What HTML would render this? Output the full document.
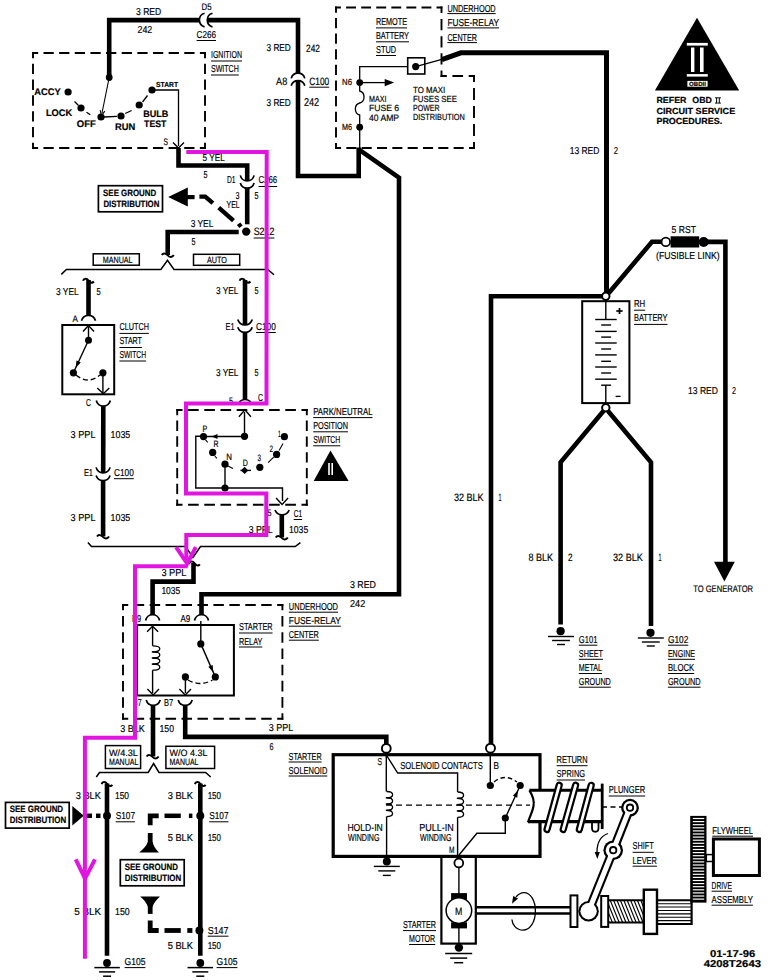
<!DOCTYPE html>
<html><head><meta charset="utf-8"><title>Starting System Schematic</title>
<style>
html,body{margin:0;padding:0;background:#fff;}
svg{display:block;}
text{font-family:"Liberation Sans",sans-serif;fill:#000;stroke:#000;stroke-width:0.18px;text-rendering:geometricPrecision;}
</style></head><body>
<svg width="775" height="980" viewBox="0 0 775 980">
<rect width="775" height="980" fill="#fff"/>
<polyline points="109.2,77 109.2,20.1 199.4,20.1" fill="none" stroke="#000" stroke-width="4.6" stroke-linejoin="miter" stroke-linecap="butt"/>
<polyline points="207.3,20.1 298,20.1 298,73.2" fill="none" stroke="#000" stroke-width="4.6" stroke-linejoin="miter" stroke-linecap="butt"/>
<path d="M204.6,13.3 A7.05,7.05 0 0 0 204.6,26.9" fill="none" stroke="#000" stroke-width="1.7" />
<path d="M212.5,13.3 A7.05,7.05 0 0 0 212.5,26.9" fill="none" stroke="#000" stroke-width="1.7" />
<text x="201.5" y="10.36" font-size="9.45" textLength="10" lengthAdjust="spacingAndGlyphs">D5</text>
<text x="196.6" y="37.68" font-size="10.08" textLength="19.4" lengthAdjust="spacingAndGlyphs">C266</text>
<line x1="196.6" y1="40.5" x2="216" y2="40.5" stroke="#000" stroke-width="1.0" />
<text x="136" y="15.08" font-size="10.08" textLength="25.3" lengthAdjust="spacingAndGlyphs">3 RED</text>
<text x="137.5" y="33.18" font-size="10.08" textLength="14.8" lengthAdjust="spacingAndGlyphs">242</text>
<line x1="32.05" y1="53" x2="205.95" y2="53" stroke="#000" stroke-width="1.9" stroke-dasharray="10.26 5.38" stroke-dashoffset="4.18"/>
<line x1="205" y1="52.05" x2="205" y2="148.95" stroke="#000" stroke-width="1.9" stroke-dasharray="10.39 5.44" stroke-dashoffset="4.25"/>
<line x1="205.95" y1="148" x2="32.05" y2="148" stroke="#000" stroke-width="1.9" stroke-dasharray="10.26 5.38" stroke-dashoffset="4.18"/>
<line x1="33" y1="148.95" x2="33" y2="52.05" stroke="#000" stroke-width="1.9" stroke-dasharray="10.39 5.44" stroke-dashoffset="4.25"/>
<text x="211" y="58.48" font-size="10.08" textLength="31" lengthAdjust="spacingAndGlyphs">IGNITION</text>
<line x1="211" y1="61" x2="242" y2="61" stroke="#000" stroke-width="1.0" />
<text x="211" y="72.48" font-size="10.08" textLength="27.8" lengthAdjust="spacingAndGlyphs">SWITCH</text>
<line x1="211" y1="75" x2="238.8" y2="75" stroke="#000" stroke-width="1.0" />
<circle cx="109.2" cy="77.5" r="3.4" fill="#000"/>
<line x1="109.2" y1="77.5" x2="102" y2="113" stroke="#000" stroke-width="1.1" />
<polyline points="100.13,110.13 101.5,115.5 104.83,111.07" fill="none" stroke="#000" stroke-width="1.1" />
<circle cx="68.1" cy="92" r="3.6" fill="#000"/>
<circle cx="81" cy="108" r="3.6" fill="#000"/>
<circle cx="101" cy="117" r="3.6" fill="#000"/>
<circle cx="121" cy="116" r="3.6" fill="#000"/>
<circle cx="139.2" cy="105" r="3.6" fill="#000"/>
<circle cx="152" cy="90" r="3.6" fill="#000"/>
<line x1="74.5" y1="101.5" x2="78.5" y2="105.5" stroke="#000" stroke-width="1.3" />
<line x1="86.5" y1="112.3" x2="90.3" y2="114.8" stroke="#000" stroke-width="1.3" />
<line x1="104" y1="117" x2="117" y2="116.3" stroke="#000" stroke-width="1.3" />
<line x1="125.2" y1="113.5" x2="131.6" y2="110.5" stroke="#000" stroke-width="1.3" />
<line x1="142.5" y1="102" x2="147.5" y2="95.5" stroke="#000" stroke-width="1.3" />
<polyline points="152,90 178.5,90 178.5,146" fill="none" stroke="#000" stroke-width="1.3" />
<polyline points="173,142.5 178.5,148 184,142.5" fill="none" stroke="#000" stroke-width="1.4" />
<text x="34.3" y="95.21" font-size="9.6" font-weight="bold" textLength="26.3" lengthAdjust="spacingAndGlyphs">ACCY</text>
<text x="45.9" y="116.11" font-size="9.6" font-weight="bold" textLength="26.3" lengthAdjust="spacingAndGlyphs">LOCK</text>
<text x="76.8" y="127.11" font-size="9.6" font-weight="bold" textLength="19" lengthAdjust="spacingAndGlyphs">OFF</text>
<text x="115.1" y="129.71" font-size="9.6" font-weight="bold" textLength="20.3" lengthAdjust="spacingAndGlyphs">RUN</text>
<text x="143.2" y="117.44" font-size="9.4" font-weight="bold" textLength="25.1" lengthAdjust="spacingAndGlyphs">BULB</text>
<text x="144.1" y="127.24" font-size="9.4" font-weight="bold" textLength="22.3" lengthAdjust="spacingAndGlyphs">TEST</text>
<text x="156.1" y="86.72" font-size="7.3" font-weight="bold" textLength="21.9" lengthAdjust="spacingAndGlyphs">START</text>
<text x="163.5" y="145.26" font-size="9.45" textLength="4.5" lengthAdjust="spacingAndGlyphs">S</text>
<path d="M291.2,78.4 A7.05,7.05 0 0 1 304.8,78.4" fill="none" stroke="#000" stroke-width="1.7" />
<path d="M291.2,85.8 A7.05,7.05 0 0 1 304.8,85.8" fill="none" stroke="#000" stroke-width="1.7" />
<text x="266.5" y="51.18" font-size="10.08" textLength="24.3" lengthAdjust="spacingAndGlyphs">3 RED</text>
<text x="306.1" y="51.69" font-size="10.71" textLength="13.8" lengthAdjust="spacingAndGlyphs">242</text>
<text x="276.1" y="84.79" font-size="10.71" textLength="11.1" lengthAdjust="spacingAndGlyphs">A8</text>
<text x="309.3" y="84.79" font-size="10.71" textLength="19.9" lengthAdjust="spacingAndGlyphs">C100</text>
<line x1="309.3" y1="87.2" x2="329.2" y2="87.2" stroke="#000" stroke-width="1.0" />
<text x="266.5" y="105.78" font-size="10.08" textLength="24.3" lengthAdjust="spacingAndGlyphs">3 RED</text>
<text x="303.9" y="106.21" font-size="11.34" textLength="15.3" lengthAdjust="spacingAndGlyphs">242</text>
<polyline points="298,80.6 298,176 358.7,176 358.7,147.5" fill="none" stroke="#000" stroke-width="4.6" stroke-linejoin="miter" stroke-linecap="butt"/>
<polyline points="358.7,149.4 399,177.7 399,594.2 201.5,594.2 201.5,614.7" fill="none" stroke="#000" stroke-width="4.6" stroke-linejoin="miter" stroke-linecap="butt"/>
<line x1="335.05" y1="7.5" x2="442.45" y2="7.5" stroke="#000" stroke-width="1.9" stroke-dasharray="9.89 5.18" stroke-dashoffset="4"/>
<line x1="441.5" y1="6.55" x2="441.5" y2="76.95" stroke="#000" stroke-width="1.9" stroke-dasharray="11.24 5.89" stroke-dashoffset="4.67"/>
<line x1="440.55" y1="76" x2="474.95" y2="76" stroke="#000" stroke-width="1.9" stroke-dasharray="10.66 5.59" stroke-dashoffset="4.38"/>
<line x1="474" y1="75.05" x2="474" y2="148.95" stroke="#000" stroke-width="1.9" stroke-dasharray="11.81 6.19" stroke-dashoffset="4.96"/>
<line x1="474.95" y1="148" x2="335.05" y2="148" stroke="#000" stroke-width="1.9" stroke-dasharray="10.06 5.27" stroke-dashoffset="4.08"/>
<line x1="336" y1="148.95" x2="336" y2="6.55" stroke="#000" stroke-width="1.9" stroke-dasharray="10.24 5.37" stroke-dashoffset="4.17"/>
<text x="376" y="25.48" font-size="10.08" textLength="31" lengthAdjust="spacingAndGlyphs">REMOTE</text>
<line x1="376" y1="27.9" x2="407" y2="27.9" stroke="#000" stroke-width="1.0" />
<text x="376" y="39.48" font-size="10.08" textLength="33" lengthAdjust="spacingAndGlyphs">BATTERY</text>
<line x1="376" y1="41.8" x2="409" y2="41.8" stroke="#000" stroke-width="1.0" />
<text x="376" y="53.48" font-size="10.08" textLength="20" lengthAdjust="spacingAndGlyphs">STUD</text>
<line x1="376" y1="55.5" x2="396" y2="55.5" stroke="#000" stroke-width="1.0" />
<text x="447.4" y="12.28" font-size="10.08" textLength="48.3" lengthAdjust="spacingAndGlyphs">UNDERHOOD</text>
<line x1="447.4" y1="13.6" x2="495.7" y2="13.6" stroke="#000" stroke-width="1.0" />
<text x="447.4" y="26.48" font-size="10.08" textLength="51.6" lengthAdjust="spacingAndGlyphs">FUSE-RELAY</text>
<line x1="447.4" y1="27.9" x2="499" y2="27.9" stroke="#000" stroke-width="1.0" />
<text x="447.4" y="40.68" font-size="10.08" textLength="29.6" lengthAdjust="spacingAndGlyphs">CENTER</text>
<line x1="447.4" y1="42.6" x2="477" y2="42.6" stroke="#000" stroke-width="1.0" />
<rect x="407.7" y="57.8" width="17.1" height="16.2" fill="none" stroke="#000" stroke-width="1.6" />
<circle cx="415.7" cy="66.6" r="3.6" fill="#000"/>
<polyline points="359.7,82.6 359.7,66.6 407.7,66.6" fill="none" stroke="#000" stroke-width="1.3" />
<line x1="415.7" y1="66.6" x2="441.8" y2="59.3" stroke="#000" stroke-width="1.3" />
<polyline points="441.8,59.6 460.9,52.8 606.5,52.8 606.5,292.3" fill="none" stroke="#000" stroke-width="5" stroke-linejoin="miter" stroke-linecap="butt"/>
<circle cx="359.7" cy="82.6" r="3.4" fill="#000"/>
<circle cx="359.7" cy="127.2" r="3.4" fill="#000"/>
<line x1="359.7" y1="82.6" x2="386" y2="82.6" stroke="#000" stroke-width="1.3" />
<polygon points="384.7,86.3 394.2,82.6 384.7,78.9" fill="#000"/>
<path d="M359.7,86 L359.7,91 C365.5,92.5 365.5,101.5 359.7,103 C353.9,104.5 353.9,113.5 359.7,115 L359.7,127.2" fill="none" stroke="#000" stroke-width="1.3" />
<line x1="359.7" y1="127.2" x2="359.7" y2="148" stroke="#000" stroke-width="1.3" />
<text x="342" y="85.34" font-size="8.82" textLength="10" lengthAdjust="spacingAndGlyphs">N6</text>
<text x="342" y="129.94" font-size="8.82" textLength="10" lengthAdjust="spacingAndGlyphs">M6</text>
<text x="369" y="102.04" font-size="8.82" textLength="17.4" lengthAdjust="spacingAndGlyphs">MAXI</text>
<text x="369" y="111.04" font-size="8.82" textLength="30.1" lengthAdjust="spacingAndGlyphs">FUSE 6</text>
<text x="369" y="121.37" font-size="9.2" textLength="30.1" lengthAdjust="spacingAndGlyphs">40 AMP</text>
<text x="413" y="93.04" font-size="8.82" textLength="32.1" lengthAdjust="spacingAndGlyphs">TO MAXI</text>
<text x="413" y="101.84" font-size="8.82" textLength="44" lengthAdjust="spacingAndGlyphs">FUSES SEE</text>
<text x="413" y="111.04" font-size="8.82" textLength="26.5" lengthAdjust="spacingAndGlyphs">POWER</text>
<text x="413" y="120.44" font-size="8.82" textLength="51.8" lengthAdjust="spacingAndGlyphs">DISTRIBUTION</text>
<polygon points="697,17.7 654.9,90.4 739.2,90.4" fill="#000"/>
<rect x="686.8" y="42.9" width="21" height="2.7" fill="#fff"/>
<rect x="686.8" y="74.1" width="21" height="2.5" fill="#fff"/>
<rect x="691" y="47.5" width="3.4" height="24.5" fill="#fff"/>
<rect x="700" y="47.5" width="3.6" height="24.5" fill="#fff"/>
<rect x="687.4" y="80.9" width="20.2" height="5.8" fill="#fff"/>
<text x="689" y="86" font-size="6" font-weight="bold" textLength="17" lengthAdjust="spacingAndGlyphs">OBDII</text>
<text x="656.4" y="103.44" font-size="8.8" font-weight="bold" textLength="30.1" lengthAdjust="spacingAndGlyphs">REFER</text>
<text x="692.3" y="103.44" font-size="8.8" font-weight="bold" textLength="19.6" lengthAdjust="spacingAndGlyphs">OBD</text>
<line x1="715" y1="97.8" x2="721" y2="97.8" stroke="#000" stroke-width="0.9" />
<line x1="715" y1="103.1" x2="721" y2="103.1" stroke="#000" stroke-width="0.9" />
<line x1="716.6" y1="97.8" x2="716.6" y2="103.1" stroke="#000" stroke-width="1" />
<line x1="719.3" y1="97.8" x2="719.3" y2="103.1" stroke="#000" stroke-width="1" />
<text x="656.4" y="113.84" font-size="8.8" font-weight="bold" textLength="78.8" lengthAdjust="spacingAndGlyphs">CIRCUIT SERVICE</text>
<text x="656.4" y="124.44" font-size="8.8" font-weight="bold" textLength="65.9" lengthAdjust="spacingAndGlyphs">PROCEDURES.</text>
<text x="569.7" y="154.08" font-size="10.08" textLength="29.7" lengthAdjust="spacingAndGlyphs">13 RED</text>
<text x="613.8" y="154.08" font-size="10.08" textLength="4.3" lengthAdjust="spacingAndGlyphs">2</text>
<polyline points="178.5,148 178.5,165.5 247.2,165.5 247.2,181" fill="none" stroke="#000" stroke-width="4.6" stroke-linejoin="miter" stroke-linecap="butt"/>
<path d="M240.3,175.4 A7.05,7.05 0 0 0 254.1,175.4" fill="none" stroke="#000" stroke-width="1.7" />
<path d="M240.3,183 A7.18,7.18 0 0 0 254.1,183" fill="none" stroke="#000" stroke-width="1.7" />
<polyline points="247.2,188.2 247.2,224.3" fill="none" stroke="#000" stroke-width="4.6" stroke-linejoin="miter" stroke-linecap="butt"/>
<circle cx="246.2" cy="231.6" r="4.2" fill="#000"/>
<polyline points="238.7,232 167.7,232 167.7,255" fill="none" stroke="#000" stroke-width="4.6" stroke-linejoin="miter" stroke-linecap="butt"/>
<path d="M161.8,255 C163.3,252.5 166.3,253.5 167.8,255.5 C169.3,257.5 172.3,257.5 173.8,255" fill="none" stroke="#000" stroke-width="1.9" />
<text x="202.6" y="161.08" font-size="10.08" textLength="22.2" lengthAdjust="spacingAndGlyphs">5 YEL</text>
<text x="203.5" y="178.08" font-size="10.08" textLength="4" lengthAdjust="spacingAndGlyphs">5</text>
<text x="227" y="183.48" font-size="10.08" textLength="8.6" lengthAdjust="spacingAndGlyphs">D1</text>
<text x="258.5" y="183.48" font-size="10.08" textLength="18.7" lengthAdjust="spacingAndGlyphs">C266</text>
<line x1="258.5" y1="186.5" x2="277.2" y2="186.5" stroke="#000" stroke-width="1.0" />
<text x="235.5" y="198.98" font-size="10.08" textLength="4" lengthAdjust="spacingAndGlyphs">3</text>
<text x="226.6" y="208.48" font-size="10.08" textLength="13.1" lengthAdjust="spacingAndGlyphs">YEL</text>
<text x="254.4" y="198.98" font-size="10.08" textLength="4" lengthAdjust="spacingAndGlyphs">5</text>
<text x="190.7" y="227.18" font-size="10.08" textLength="22.7" lengthAdjust="spacingAndGlyphs">3 YEL</text>
<text x="253.7" y="235.49" font-size="10.71" textLength="20.7" lengthAdjust="spacingAndGlyphs">S212</text>
<line x1="253.7" y1="238" x2="274.4" y2="238" stroke="#000" stroke-width="1.0" />
<text x="191.5" y="245.08" font-size="10.08" textLength="4" lengthAdjust="spacingAndGlyphs">5</text>
<rect x="98.4" y="185.7" width="64.1" height="26.1" fill="none" stroke="#000" stroke-width="1.7" />
<text x="103.1" y="195.77" font-size="9.2" font-weight="bold" textLength="53.1" lengthAdjust="spacingAndGlyphs">SEE GROUND</text>
<text x="103.4" y="206.87" font-size="9.2" font-weight="bold" textLength="56" lengthAdjust="spacingAndGlyphs">DISTRIBUTION</text>
<polygon points="168.2,196.9 187.8,187.5 187.8,206.4" fill="#000"/>
<polyline points="187,197.1 194.6,197.1" fill="none" stroke="#000" stroke-width="4.2" stroke-linejoin="miter" stroke-linecap="butt"/>
<polyline points="199.4,196.6 205.2,196.6 212.9,203.2" fill="none" stroke="#000" stroke-width="4.4" stroke-linejoin="miter"/>
<line x1="218.7" y1="207.7" x2="233.5" y2="220.6" stroke="#000" stroke-width="4.4" />
<line x1="238.1" y1="226.5" x2="241.5" y2="224" stroke="#000" stroke-width="4" />
<rect x="93.2" y="253.8" width="46.1" height="11.4" fill="none" stroke="#000" stroke-width="1.5" />
<text x="102.8" y="262.89" font-size="8.95" textLength="29.8" lengthAdjust="spacingAndGlyphs">MANUAL</text>
<rect x="193.5" y="254.3" width="46.2" height="11" fill="none" stroke="#000" stroke-width="1.5" />
<text x="207" y="263.19" font-size="8.95" textLength="19.9" lengthAdjust="spacingAndGlyphs">AUTO</text>
<polyline points="61.3,274.4 66.4,269.5 160.9,269.5 167.5,260.4 174,269.5 267.8,269.5 274,274.7" fill="none" stroke="#000" stroke-width="1.5" />
<path d="M83.1,280.8 C83.9,278.1 86.9,278.1 88.5,280.5 C89.7,282.5 92,283.7 93.9,281.5" fill="none" stroke="#000" stroke-width="2.0" />
<polyline points="88.5,280 88.5,315.3" fill="none" stroke="#000" stroke-width="4.6" stroke-linejoin="miter" stroke-linecap="butt"/>
<path d="M81.5,320.7 A7.24,7.24 0 0 1 95.5,320.7" fill="none" stroke="#000" stroke-width="1.7" />
<text x="56" y="294.68" font-size="10.08" textLength="22.6" lengthAdjust="spacingAndGlyphs">3 YEL</text>
<text x="96.4" y="294.68" font-size="10.08" textLength="4.2" lengthAdjust="spacingAndGlyphs">5</text>
<text x="72.4" y="321.66" font-size="9.45" textLength="5.4" lengthAdjust="spacingAndGlyphs">A</text>
<rect x="62.3" y="325" width="51.9" height="69.3" fill="none" stroke="#000" stroke-width="2" />
<text x="119.4" y="330.48" font-size="10.08" textLength="29.5" lengthAdjust="spacingAndGlyphs">CLUTCH</text>
<line x1="119.4" y1="333.4" x2="148.9" y2="333.4" stroke="#000" stroke-width="1.0" />
<text x="119.4" y="344.48" font-size="10.08" textLength="22.5" lengthAdjust="spacingAndGlyphs">START</text>
<line x1="119.4" y1="347.5" x2="141.9" y2="347.5" stroke="#000" stroke-width="1.0" />
<text x="119.4" y="358.48" font-size="10.08" textLength="26.7" lengthAdjust="spacingAndGlyphs">SWITCH</text>
<line x1="119.4" y1="361" x2="146.1" y2="361" stroke="#000" stroke-width="1.0" />
<line x1="88.5" y1="340.3" x2="88.5" y2="326.5" stroke="#000" stroke-width="1.4" />
<polyline points="94,331.5 88.5,325.5 83,331.5" fill="none" stroke="#000" stroke-width="1.4" />
<circle cx="88.5" cy="340.3" r="3.5" fill="#000"/>
<line x1="88.5" y1="340.3" x2="73.4" y2="372.8" stroke="#000" stroke-width="1.4" />
<polygon points="76.45,360.44 75.7,367.8 80.81,362.45" fill="#000"/>
<circle cx="73.4" cy="372.8" r="3.6" fill="#000"/>
<circle cx="102.9" cy="372.8" r="3.6" fill="#000"/>
<path d="M76,375 Q88,385 100,375" fill="none" stroke="#000" stroke-width="1.3" stroke-dasharray="5 3"/>
<line x1="102.9" y1="372.8" x2="102.9" y2="393" stroke="#000" stroke-width="1.4" />
<polyline points="97.3,388.1 103.3,393.8 109.3,388.1" fill="none" stroke="#000" stroke-width="1.4" />
<path d="M96.3,400.5 A7.15,7.15 0 0 0 110.3,400.5" fill="none" stroke="#000" stroke-width="1.7" />
<text x="86" y="405.98" font-size="10.08" textLength="4.9" lengthAdjust="spacingAndGlyphs">C</text>
<polyline points="103.3,406.2 103.2,472.8" fill="none" stroke="#000" stroke-width="4.6" stroke-linejoin="miter" stroke-linecap="butt"/>
<path d="M96.1,467.4 A7.24,7.24 0 0 0 110.1,467.4" fill="none" stroke="#000" stroke-width="1.7" />
<path d="M96.1,475.4 A7.35,7.35 0 0 0 110.1,475.4" fill="none" stroke="#000" stroke-width="1.7" />
<polyline points="103.1,480.5 103.1,536.5" fill="none" stroke="#000" stroke-width="4.6" stroke-linejoin="miter" stroke-linecap="butt"/>
<path d="M97,536.5 C98.5,534 101.5,535 103,537 C104.5,539 107.5,539 109,536.5" fill="none" stroke="#000" stroke-width="1.9" />
<text x="70.6" y="438.08" font-size="10.08" textLength="24.9" lengthAdjust="spacingAndGlyphs">3 PPL</text>
<text x="110.6" y="438.08" font-size="10.08" textLength="19.7" lengthAdjust="spacingAndGlyphs">1035</text>
<text x="83.9" y="476.48" font-size="10.08" textLength="9.1" lengthAdjust="spacingAndGlyphs">E1</text>
<text x="114" y="476.48" font-size="10.08" textLength="19.8" lengthAdjust="spacingAndGlyphs">C100</text>
<line x1="114" y1="478.7" x2="133.8" y2="478.7" stroke="#000" stroke-width="1.0" />
<text x="70.6" y="520.78" font-size="10.08" textLength="24.9" lengthAdjust="spacingAndGlyphs">3 PPL</text>
<text x="110.6" y="520.78" font-size="10.08" textLength="19.7" lengthAdjust="spacingAndGlyphs">1035</text>
<path d="M239.6,280.8 C240.4,278.1 243.4,278.1 245,280.5 C246.2,282.5 248.5,283.7 250.4,281.5" fill="none" stroke="#000" stroke-width="2.0" />
<polyline points="245,280 245,324.9" fill="none" stroke="#000" stroke-width="4.6" stroke-linejoin="miter" stroke-linecap="butt"/>
<path d="M237.8,319.5 A7.5,7.5 0 0 0 252.2,319.5" fill="none" stroke="#000" stroke-width="1.7" />
<path d="M237.8,327.2 A7.58,7.58 0 0 0 252.2,327.2" fill="none" stroke="#000" stroke-width="1.7" />
<polyline points="245,332.4 245,400" fill="none" stroke="#000" stroke-width="4.6" stroke-linejoin="miter" stroke-linecap="butt"/>
<path d="M239.3,401.8 A8.21,8.21 0 0 1 250.7,401.8" fill="none" stroke="#000" stroke-width="1.7" />
<text x="216" y="294.08" font-size="10.08" textLength="22.4" lengthAdjust="spacingAndGlyphs">3 YEL</text>
<text x="254.6" y="294.08" font-size="10.08" textLength="4" lengthAdjust="spacingAndGlyphs">5</text>
<text x="225.5" y="330.28" font-size="10.08" textLength="9" lengthAdjust="spacingAndGlyphs">E1</text>
<text x="256" y="330.28" font-size="10.08" textLength="19.8" lengthAdjust="spacingAndGlyphs">C100</text>
<line x1="256" y1="332.5" x2="275.8" y2="332.5" stroke="#000" stroke-width="1.0" />
<text x="216" y="375.98" font-size="10.08" textLength="22.4" lengthAdjust="spacingAndGlyphs">3 YEL</text>
<text x="254.6" y="375.98" font-size="10.08" textLength="4" lengthAdjust="spacingAndGlyphs">5</text>
<text x="229" y="403.76" font-size="9.45" textLength="4" lengthAdjust="spacingAndGlyphs">5</text>
<text x="258" y="401.18" font-size="10.08" textLength="5" lengthAdjust="spacingAndGlyphs">C</text>
<line x1="176.25" y1="410" x2="307.75" y2="410" stroke="#000" stroke-width="1.9" stroke-dasharray="10.63 5.57" stroke-dashoffset="4.37"/>
<line x1="306.8" y1="409.05" x2="306.8" y2="505.65" stroke="#000" stroke-width="1.9" stroke-dasharray="10.36 5.43" stroke-dashoffset="4.23"/>
<line x1="307.75" y1="504.7" x2="176.25" y2="504.7" stroke="#000" stroke-width="1.9" stroke-dasharray="10.63 5.57" stroke-dashoffset="4.37"/>
<line x1="177.2" y1="505.65" x2="177.2" y2="409.05" stroke="#000" stroke-width="1.9" stroke-dasharray="10.36 5.43" stroke-dashoffset="4.23"/>
<text x="313.2" y="415.28" font-size="10.08" textLength="59.3" lengthAdjust="spacingAndGlyphs">PARK/NEUTRAL</text>
<line x1="313.2" y1="417.6" x2="372.5" y2="417.6" stroke="#000" stroke-width="1.0" />
<text x="313.2" y="429.48" font-size="10.08" textLength="34.8" lengthAdjust="spacingAndGlyphs">POSITION</text>
<line x1="313.2" y1="431.8" x2="348" y2="431.8" stroke="#000" stroke-width="1.0" />
<text x="313.2" y="443.48" font-size="10.08" textLength="27.1" lengthAdjust="spacingAndGlyphs">SWITCH</text>
<line x1="313.2" y1="445.8" x2="340.3" y2="445.8" stroke="#000" stroke-width="1.0" />
<polygon points="330.5,450.5 313.7,481 348.6,481" fill="#000"/>
<rect x="328.2" y="463" width="1.6" height="12" fill="#fff"/>
<rect x="331.4" y="463" width="1.6" height="12" fill="#fff"/>
<line x1="244.5" y1="436.3" x2="244.5" y2="412" stroke="#000" stroke-width="1.4" />
<polyline points="250.9,416.8 244.9,409.8 238.9,416.8" fill="none" stroke="#000" stroke-width="1.4" />
<circle cx="244.5" cy="436.3" r="3.6" fill="#000"/>
<line x1="244.5" y1="436.5" x2="207" y2="436.5" stroke="#000" stroke-width="1.4" />
<polygon points="217.5,434.1 211.5,436.5 217.5,438.9" fill="#000"/>
<circle cx="203.5" cy="436.6" r="3.6" fill="#000"/>
<line x1="205.6" y1="439.9" x2="207.7" y2="442.4" stroke="#000" stroke-width="1.1" />
<polyline points="203.5,436.3 195.8,436.3 195.8,488 282.5,488 282.5,501" fill="none" stroke="#000" stroke-width="1.4" />
<polyline points="276.1,498.1 282.1,504.5 288.1,498.1" fill="none" stroke="#000" stroke-width="1.4" />
<circle cx="225" cy="488" r="3.6" fill="#000"/>
<line x1="225" y1="488" x2="225" y2="464.2" stroke="#000" stroke-width="1.4" />
<circle cx="225" cy="464.2" r="3.6" fill="#000"/>
<circle cx="212.7" cy="452.4" r="3.6" fill="#000"/>
<polygon points="244.6,466.8 248.3,470.4 244.6,474 240.9,470.4" fill="#000"/>
<line x1="240.4" y1="470.4" x2="251" y2="470.4" stroke="#000" stroke-width="1.4" />
<circle cx="259.8" cy="467.3" r="3.6" fill="#000"/>
<circle cx="276.6" cy="454.4" r="3.6" fill="#000"/>
<circle cx="284.4" cy="436.7" r="3.6" fill="#000"/>
<line x1="214.8" y1="456.2" x2="217" y2="458.3" stroke="#000" stroke-width="1.1" />
<line x1="228" y1="466" x2="233" y2="468.5" stroke="#000" stroke-width="1.1" />
<line x1="268.1" y1="462.6" x2="273.7" y2="457.2" stroke="#000" stroke-width="1.1" />
<line x1="279.1" y1="450.5" x2="283" y2="443.4" stroke="#000" stroke-width="1.1" />
<text x="202.5" y="432.37" font-size="9.2" textLength="4.8" lengthAdjust="spacingAndGlyphs">P</text>
<text x="213.4" y="446.57" font-size="9.2" textLength="5" lengthAdjust="spacingAndGlyphs">R</text>
<text x="226.2" y="460.37" font-size="9.2" textLength="5.7" lengthAdjust="spacingAndGlyphs">N</text>
<text x="242.8" y="465.77" font-size="9.2" textLength="5.1" lengthAdjust="spacingAndGlyphs">D</text>
<text x="257.4" y="461.47" font-size="9.2" textLength="3.6" lengthAdjust="spacingAndGlyphs">3</text>
<text x="269.5" y="452.27" font-size="9.2" textLength="3.5" lengthAdjust="spacingAndGlyphs">2</text>
<text x="278" y="436.67" font-size="9.2" textLength="2.8" lengthAdjust="spacingAndGlyphs">1</text>
<path d="M275,510 A7.65,7.65 0 0 0 289.2,510" fill="none" stroke="#000" stroke-width="1.7" />
<polyline points="281.8,514.8 281.8,537.5" fill="none" stroke="#000" stroke-width="4.6" stroke-linejoin="miter" stroke-linecap="butt"/>
<path d="M275.8,537.5 C277.3,535 280.3,536 281.8,538 C283.3,540 286.3,540 287.8,537.5" fill="none" stroke="#000" stroke-width="1.9" />
<text x="293.7" y="516.98" font-size="10.08" textLength="8.4" lengthAdjust="spacingAndGlyphs">C1</text>
<line x1="293.7" y1="519.5" x2="302.1" y2="519.5" stroke="#000" stroke-width="1.0" />
<text x="248.8" y="533.08" font-size="10.08" textLength="23.7" lengthAdjust="spacingAndGlyphs">3 PPL</text>
<text x="289" y="533.08" font-size="10.08" textLength="19.2" lengthAdjust="spacingAndGlyphs">1035</text>
<text x="267.5" y="515.66" font-size="9.45" textLength="4" lengthAdjust="spacingAndGlyphs">5</text>
<polyline points="87.9,542.4 91.5,546.5 185.5,546.5 193,557.5 200.5,546.5 295.2,546.5 300.4,542.6" fill="none" stroke="#000" stroke-width="1.5" />
<path d="M189.1,563.6 C189.9,560.9 192.9,560.9 194.5,563.3 C195.7,565.3 198,566.5 199.9,564.3" fill="none" stroke="#000" stroke-width="2.0" />
<polyline points="193.5,563 193.5,581.6 152.6,581.6 152.6,614.7" fill="none" stroke="#000" stroke-width="4.6" stroke-linejoin="miter" stroke-linecap="butt"/>
<path d="M145.6,620.5 A7.12,7.12 0 0 1 159.6,620.5" fill="none" stroke="#000" stroke-width="1.7" />
<path d="M194.5,620.5 A7.12,7.12 0 0 1 208.5,620.5" fill="none" stroke="#000" stroke-width="1.7" />
<text x="161.4" y="576.08" font-size="10.08" textLength="25.1" lengthAdjust="spacingAndGlyphs">3 PPL</text>
<text x="161.4" y="594.48" font-size="10.08" textLength="18.9" lengthAdjust="spacingAndGlyphs">1035</text>
<text x="350" y="588.28" font-size="10.08" textLength="26" lengthAdjust="spacingAndGlyphs">3 RED</text>
<text x="350" y="607.48" font-size="10.08" textLength="15.2" lengthAdjust="spacingAndGlyphs">242</text>
<line x1="122.05" y1="605" x2="283.35" y2="605" stroke="#000" stroke-width="1.9" stroke-dasharray="10.46 5.48" stroke-dashoffset="4.28"/>
<line x1="282.4" y1="604.05" x2="282.4" y2="719.65" stroke="#000" stroke-width="1.9" stroke-dasharray="10.66 5.58" stroke-dashoffset="4.38"/>
<line x1="283.35" y1="718.7" x2="122.05" y2="718.7" stroke="#000" stroke-width="1.9" stroke-dasharray="10.46 5.48" stroke-dashoffset="4.28"/>
<line x1="123" y1="719.65" x2="123" y2="604.05" stroke="#000" stroke-width="1.9" stroke-dasharray="10.66 5.58" stroke-dashoffset="4.38"/>
<text x="288.8" y="610.28" font-size="10.08" textLength="49.2" lengthAdjust="spacingAndGlyphs">UNDERHOOD</text>
<line x1="288.8" y1="612.2" x2="338" y2="612.2" stroke="#000" stroke-width="1.0" />
<text x="288.8" y="624.28" font-size="10.08" textLength="52" lengthAdjust="spacingAndGlyphs">FUSE-RELAY</text>
<line x1="288.8" y1="626.2" x2="340.8" y2="626.2" stroke="#000" stroke-width="1.0" />
<text x="288.8" y="638.28" font-size="10.08" textLength="30" lengthAdjust="spacingAndGlyphs">CENTER</text>
<line x1="288.8" y1="640.2" x2="318.8" y2="640.2" stroke="#000" stroke-width="1.0" />
<rect x="137" y="625" width="96.9" height="70.5" fill="none" stroke="#000" stroke-width="2" />
<text x="239" y="630.48" font-size="10.08" textLength="33.6" lengthAdjust="spacingAndGlyphs">STARTER</text>
<line x1="239" y1="633" x2="272.6" y2="633" stroke="#000" stroke-width="1.0" />
<text x="239" y="644.78" font-size="10.08" textLength="23.3" lengthAdjust="spacingAndGlyphs">RELAY</text>
<line x1="239" y1="647" x2="262.3" y2="647" stroke="#000" stroke-width="1.0" />
<text x="132" y="621.78" font-size="10.08" textLength="9" lengthAdjust="spacingAndGlyphs">B9</text>
<text x="180.5" y="621.78" font-size="10.08" textLength="9.8" lengthAdjust="spacingAndGlyphs">A9</text>
<line x1="152.6" y1="627" x2="152.6" y2="645.8" stroke="#000" stroke-width="1.4" />
<polyline points="158.1,631.8 152.6,626.3 147.1,631.8" fill="none" stroke="#000" stroke-width="1.4" />
<path d="M152.6,645.8 C162.2,645.8 162.2,651.9 152.6,651.9 C162.2,651.9 162.2,658 152.6,658 C162.2,658 162.2,664.1 152.6,664.1 C162.2,664.1 162.2,670.2 152.6,670.2" fill="none" stroke="#000" stroke-width="1.3" />
<line x1="151.8" y1="651.9" x2="158.36" y2="651.9" stroke="#000" stroke-width="1.5" />
<line x1="151.8" y1="658" x2="158.36" y2="658" stroke="#000" stroke-width="1.5" />
<line x1="151.8" y1="664.1" x2="158.36" y2="664.1" stroke="#000" stroke-width="1.5" />
<line x1="152.6" y1="670.2" x2="152.6" y2="693" stroke="#000" stroke-width="1.4" />
<polyline points="147.4,689 153.2,695 159,689" fill="none" stroke="#000" stroke-width="1.4" />
<line x1="200.8" y1="621" x2="200.8" y2="643.9" stroke="#000" stroke-width="1.4" />
<circle cx="200.8" cy="643.9" r="3.6" fill="#000"/>
<line x1="200.8" y1="643.9" x2="215.3" y2="676.9" stroke="#000" stroke-width="1.4" />
<polygon points="208.3,666.85 213.3,672.3 212.7,664.92" fill="#000"/>
<circle cx="215.3" cy="676.9" r="3.6" fill="#000"/>
<circle cx="185.4" cy="676.9" r="3.6" fill="#000"/>
<path d="M188,680 Q200,687 212.5,680" fill="none" stroke="#000" stroke-width="1.3" stroke-dasharray="5 3"/>
<line x1="185.4" y1="676.9" x2="185.4" y2="693" stroke="#000" stroke-width="1.4" />
<polyline points="179.4,689 185.2,695 191,689" fill="none" stroke="#000" stroke-width="1.4" />
<path d="M146.2,700 A7.27,7.27 0 0 0 160.2,700" fill="none" stroke="#000" stroke-width="1.7" />
<path d="M178.2,700 A7.27,7.27 0 0 0 192.2,700" fill="none" stroke="#000" stroke-width="1.7" />
<text x="133" y="706.38" font-size="10.08" textLength="8.6" lengthAdjust="spacingAndGlyphs">B7</text>
<text x="163.9" y="706.38" font-size="10.08" textLength="9.2" lengthAdjust="spacingAndGlyphs">B7</text>
<polyline points="153,705.3 153,756.5" fill="none" stroke="#000" stroke-width="4.6" stroke-linejoin="miter" stroke-linecap="butt"/>
<path d="M146.6,756.5 C148.1,754 151.1,755 152.6,757 C154.1,759 157.1,759 158.6,756.5" fill="none" stroke="#000" stroke-width="1.9" />
<polyline points="185.2,705.3 185.2,736.9 386.3,736.9 386.3,744.5" fill="none" stroke="#000" stroke-width="4.6" stroke-linejoin="miter" stroke-linecap="butt"/>
<text x="120.3" y="732.48" font-size="10.08" textLength="24.5" lengthAdjust="spacingAndGlyphs">3 BLK</text>
<text x="159.5" y="732.48" font-size="10.08" textLength="14.5" lengthAdjust="spacingAndGlyphs">150</text>
<text x="268.7" y="731.18" font-size="10.08" textLength="24.5" lengthAdjust="spacingAndGlyphs">3 PPL</text>
<text x="269.5" y="750.48" font-size="10.08" textLength="4" lengthAdjust="spacingAndGlyphs">6</text>
<rect x="105.4" y="745.6" width="35.2" height="22.9" fill="none" stroke="#000" stroke-width="1.5" />
<text x="109" y="756.17" font-size="9.2" textLength="28.9" lengthAdjust="spacingAndGlyphs">W/4.3L</text>
<text x="109" y="765.37" font-size="9.2" textLength="29.4" lengthAdjust="spacingAndGlyphs">MANUAL</text>
<rect x="165.9" y="746.3" width="48.7" height="22.2" fill="none" stroke="#000" stroke-width="1.5" />
<text x="169.5" y="756.17" font-size="9.2" textLength="37.9" lengthAdjust="spacingAndGlyphs">W/O 4.3L</text>
<text x="169.5" y="765.37" font-size="9.2" textLength="28.9" lengthAdjust="spacingAndGlyphs">MANUAL</text>
<polyline points="96.3,777 99.5,772.5 148.2,772.5 153.6,763.5 159,772.5 205.6,772.5 210.7,777" fill="none" stroke="#000" stroke-width="1.5" />
<path d="M101.6,784.1 C102.4,781.4 105.4,781.4 107,783.8 C108.2,785.8 110.5,787 112.4,784.8" fill="none" stroke="#000" stroke-width="2.0" />
<polyline points="107,783.5 107,955.7" fill="none" stroke="#000" stroke-width="4.6" stroke-linejoin="miter" stroke-linecap="butt"/>
<path d="M194.9,784.1 C195.7,781.4 198.7,781.4 200.3,783.8 C201.5,785.8 203.8,787 205.7,784.8" fill="none" stroke="#000" stroke-width="2.0" />
<polyline points="200.3,783.5 200.3,955.7" fill="none" stroke="#000" stroke-width="4.6" stroke-linejoin="miter" stroke-linecap="butt"/>
<circle cx="107" cy="963" r="3.9" fill="#000"/>
<circle cx="200.3" cy="963" r="3.9" fill="#000"/>
<line x1="94.35" y1="967.6" x2="119.85" y2="967.6" stroke="#000" stroke-width="1.5" />
<line x1="99.1" y1="971.9" x2="115.1" y2="971.9" stroke="#000" stroke-width="1.5" />
<line x1="103.1" y1="976.2" x2="111.1" y2="976.2" stroke="#000" stroke-width="1.5" />
<line x1="187.55" y1="967.6" x2="213.05" y2="967.6" stroke="#000" stroke-width="1.5" />
<line x1="192.3" y1="971.9" x2="208.3" y2="971.9" stroke="#000" stroke-width="1.5" />
<line x1="196.3" y1="976.2" x2="204.3" y2="976.2" stroke="#000" stroke-width="1.5" />
<text x="75.7" y="799.18" font-size="10.08" textLength="25.3" lengthAdjust="spacingAndGlyphs">3 BLK</text>
<text x="115" y="799.18" font-size="10.08" textLength="14" lengthAdjust="spacingAndGlyphs">150</text>
<text x="167.7" y="799.18" font-size="10.08" textLength="25.3" lengthAdjust="spacingAndGlyphs">3 BLK</text>
<text x="207.7" y="799.18" font-size="10.08" textLength="13.3" lengthAdjust="spacingAndGlyphs">150</text>
<rect x="5.5" y="802.4" width="63.7" height="25.7" fill="none" stroke="#000" stroke-width="1.7" />
<text x="9.8" y="811.97" font-size="9.2" font-weight="bold" textLength="53.3" lengthAdjust="spacingAndGlyphs">SEE GROUND</text>
<text x="9.8" y="823.37" font-size="9.2" font-weight="bold" textLength="56.4" lengthAdjust="spacingAndGlyphs">DISTRIBUTION</text>
<polygon points="72.3,806 83.8,815.8 72.3,825.6" fill="#000"/>
<line x1="84" y1="815.8" x2="92" y2="815.8" stroke="#000" stroke-width="4.5" />
<line x1="96" y1="815.8" x2="100.5" y2="815.8" stroke="#000" stroke-width="4.5" />
<circle cx="107" cy="815.8" r="4" fill="#000"/>
<text x="115.7" y="819.28" font-size="10.08" textLength="19.3" lengthAdjust="spacingAndGlyphs">S107</text>
<line x1="115.7" y1="821.8" x2="135" y2="821.8" stroke="#000" stroke-width="1.0" />
<text x="209.2" y="819.28" font-size="10.08" textLength="19.3" lengthAdjust="spacingAndGlyphs">S107</text>
<line x1="209.2" y1="821.8" x2="228.5" y2="821.8" stroke="#000" stroke-width="1.0" />
<circle cx="200.3" cy="815.8" r="4" fill="#000"/>
<line x1="192.4" y1="815.8" x2="188.9" y2="815.8" stroke="#000" stroke-width="4.5" />
<line x1="180.8" y1="815.8" x2="164.5" y2="815.8" stroke="#000" stroke-width="4.5" />
<polyline points="158.7,815.8 150.2,815.8 150.2,825.3" fill="none" stroke="#000" stroke-width="4.8" stroke-linejoin="miter"/>
<line x1="150.2" y1="833" x2="150.2" y2="844" stroke="#000" stroke-width="4.8" />
<path d="M147.8,842 L152.6,842 C153.5,846 156,849.5 159,852.5 L139.2,852.5 C142.5,849.5 146.5,846 147.8,842 Z" fill="#000"/>
<text x="167.7" y="840.68" font-size="10.08" textLength="25.3" lengthAdjust="spacingAndGlyphs">5 BLK</text>
<text x="207.7" y="840.68" font-size="10.08" textLength="13.3" lengthAdjust="spacingAndGlyphs">150</text>
<rect x="120.3" y="859.7" width="63.9" height="26.1" fill="none" stroke="#000" stroke-width="1.7" />
<text x="124.7" y="869.87" font-size="9.2" font-weight="bold" textLength="53.2" lengthAdjust="spacingAndGlyphs">SEE GROUND</text>
<text x="124.7" y="881.07" font-size="9.2" font-weight="bold" textLength="56.6" lengthAdjust="spacingAndGlyphs">DISTRIBUTION</text>
<path d="M140.2,896.5 L160,896.5 C157,899.5 153.5,903 152.6,906.6 L147.8,906.6 C146.8,903 143.5,899.5 140.2,896.5 Z" fill="#000"/>
<line x1="150.2" y1="906" x2="150.2" y2="913.9" stroke="#000" stroke-width="4.8" />
<polyline points="150.2,920.5 150.2,930.5 158.7,930.5" fill="none" stroke="#000" stroke-width="4.8" stroke-linejoin="miter"/>
<line x1="164.5" y1="930.5" x2="180.8" y2="930.5" stroke="#000" stroke-width="4.8" />
<line x1="187.3" y1="930.5" x2="192.4" y2="930.5" stroke="#000" stroke-width="4.8" />
<circle cx="199.4" cy="930.5" r="4" fill="#000"/>
<text x="207.7" y="933.98" font-size="10.08" textLength="20.8" lengthAdjust="spacingAndGlyphs">S147</text>
<line x1="207.7" y1="936.2" x2="228.5" y2="936.2" stroke="#000" stroke-width="1.0" />
<text x="74.2" y="914.68" font-size="10.08" textLength="26.8" lengthAdjust="spacingAndGlyphs">5 BLK</text>
<text x="115" y="914.68" font-size="10.08" textLength="14.7" lengthAdjust="spacingAndGlyphs">150</text>
<text x="167.7" y="948.78" font-size="10.08" textLength="25.3" lengthAdjust="spacingAndGlyphs">5 BLK</text>
<text x="207.7" y="948.78" font-size="10.08" textLength="13.3" lengthAdjust="spacingAndGlyphs">150</text>
<text x="124.6" y="965.18" font-size="10.08" textLength="20.8" lengthAdjust="spacingAndGlyphs">G105</text>
<line x1="124.6" y1="967.6" x2="145.4" y2="967.6" stroke="#000" stroke-width="1.0" />
<text x="216.6" y="965.18" font-size="10.08" textLength="20.8" lengthAdjust="spacingAndGlyphs">G105</text>
<line x1="216.6" y1="967.6" x2="237.4" y2="967.6" stroke="#000" stroke-width="1.0" />
<polyline points="602.2,296.2 491,296.2 491,744.3" fill="none" stroke="#000" stroke-width="4.6" stroke-linejoin="miter" stroke-linecap="butt"/>
<polyline points="608.6,293.2 652,241.8 661.8,241.8" fill="none" stroke="#000" stroke-width="4.6" stroke-linejoin="miter" stroke-linecap="butt"/>
<circle cx="605.8" cy="296.3" r="3.7" fill="#fff" stroke="#000" stroke-width="2"/>
<circle cx="665.8" cy="241.9" r="4.3" fill="#fff" stroke="#000" stroke-width="1.8"/>
<rect x="670.6" y="236.3" width="28.6" height="11.2" fill="#000"/>
<circle cx="703.7" cy="242" r="5" fill="#000"/>
<polyline points="703,241.9 725.4,241.9 725.4,563" fill="none" stroke="#000" stroke-width="4.6" stroke-linejoin="miter" stroke-linecap="butt"/>
<polygon points="714,561.7 734.8,561.7 724.4,581.6" fill="#000"/>
<text x="671.6" y="232.68" font-size="10.08" textLength="24.4" lengthAdjust="spacingAndGlyphs">5 RST</text>
<text x="656" y="258.58" font-size="10.08" textLength="63.6" lengthAdjust="spacingAndGlyphs">(FUSIBLE LINK)</text>
<rect x="582.2" y="301.2" width="47.2" height="101.9" fill="none" stroke="#000" stroke-width="2" />
<line x1="605.8" y1="300" x2="605.8" y2="319.5" stroke="#000" stroke-width="1.4" />
<line x1="595.2" y1="319.5" x2="616.7" y2="319.5" stroke="#000" stroke-width="1.4" />
<line x1="601.2" y1="325" x2="611.1" y2="325" stroke="#000" stroke-width="1.4" />
<line x1="595.2" y1="331.4" x2="616.7" y2="331.4" stroke="#000" stroke-width="1.4" />
<line x1="601.2" y1="337.1" x2="611.1" y2="337.1" stroke="#000" stroke-width="1.4" />
<line x1="595.2" y1="343" x2="616.7" y2="343" stroke="#000" stroke-width="1.4" />
<line x1="601.2" y1="349" x2="611.1" y2="349" stroke="#000" stroke-width="1.4" />
<line x1="595.2" y1="354.9" x2="616.7" y2="354.9" stroke="#000" stroke-width="1.4" />
<line x1="601.2" y1="361.3" x2="611.1" y2="361.3" stroke="#000" stroke-width="1.4" />
<line x1="595.2" y1="367" x2="616.7" y2="367" stroke="#000" stroke-width="1.4" />
<line x1="601.2" y1="373" x2="611.1" y2="373" stroke="#000" stroke-width="1.4" />
<line x1="595.2" y1="379.2" x2="616.7" y2="379.2" stroke="#000" stroke-width="1.4" />
<line x1="601.2" y1="385.2" x2="611.1" y2="385.2" stroke="#000" stroke-width="1.4" />
<line x1="605.8" y1="385.2" x2="605.8" y2="404" stroke="#000" stroke-width="1.4" />
<line x1="616.3" y1="311" x2="622.6" y2="311" stroke="#000" stroke-width="1.7" />
<line x1="619.5" y1="308" x2="619.5" y2="314" stroke="#000" stroke-width="1.7" />
<line x1="615.6" y1="396.4" x2="620.6" y2="396.4" stroke="#000" stroke-width="1.3" />
<text x="634" y="307.08" font-size="10.08" textLength="11.2" lengthAdjust="spacingAndGlyphs">RH</text>
<line x1="634" y1="310.2" x2="645.2" y2="310.2" stroke="#000" stroke-width="1.0" />
<text x="634" y="321.38" font-size="10.08" textLength="33.5" lengthAdjust="spacingAndGlyphs">BATTERY</text>
<line x1="634" y1="324.4" x2="667.5" y2="324.4" stroke="#000" stroke-width="1.0" />
<polyline points="603.5,411 560.6,462.3 560.6,624.5" fill="none" stroke="#000" stroke-width="4.6" stroke-linejoin="miter" stroke-linecap="butt"/>
<polyline points="608,411 651,462.3 651,626" fill="none" stroke="#000" stroke-width="4.6" stroke-linejoin="miter" stroke-linecap="butt"/>
<circle cx="605.8" cy="407.8" r="3.7" fill="#fff" stroke="#000" stroke-width="2"/>
<text x="688" y="393.88" font-size="10.08" textLength="30" lengthAdjust="spacingAndGlyphs">13 RED</text>
<text x="732" y="393.88" font-size="10.08" textLength="4" lengthAdjust="spacingAndGlyphs">2</text>
<text x="453.9" y="501.09" font-size="10.71" textLength="29.7" lengthAdjust="spacingAndGlyphs">32 BLK</text>
<text x="498.5" y="501.09" font-size="10.71" textLength="3" lengthAdjust="spacingAndGlyphs">1</text>
<text x="528.5" y="560.99" font-size="10.71" textLength="24.5" lengthAdjust="spacingAndGlyphs">8 BLK</text>
<text x="568" y="560.99" font-size="10.71" textLength="4.5" lengthAdjust="spacingAndGlyphs">2</text>
<text x="613" y="560.99" font-size="10.71" textLength="29.8" lengthAdjust="spacingAndGlyphs">32 BLK</text>
<text x="658.5" y="560.99" font-size="10.71" textLength="3" lengthAdjust="spacingAndGlyphs">1</text>
<text x="693.2" y="592.26" font-size="9.45" textLength="59.9" lengthAdjust="spacingAndGlyphs">TO GENERATOR</text>
<circle cx="560.6" cy="631.2" r="4.1" fill="#000"/>
<line x1="548" y1="636.5" x2="574" y2="636.5" stroke="#000" stroke-width="1.4" />
<line x1="552.1" y1="640.5" x2="569.9" y2="640.5" stroke="#000" stroke-width="1.4" />
<line x1="557" y1="644.5" x2="565" y2="644.5" stroke="#000" stroke-width="1.4" />
<circle cx="650.5" cy="632.8" r="4.1" fill="#000"/>
<line x1="637.8" y1="638" x2="663.8" y2="638" stroke="#000" stroke-width="1.4" />
<line x1="641.9" y1="642" x2="659.7" y2="642" stroke="#000" stroke-width="1.4" />
<line x1="646.8" y1="646" x2="654.8" y2="646" stroke="#000" stroke-width="1.4" />
<text x="578.8" y="642.88" font-size="10.08" textLength="18.6" lengthAdjust="spacingAndGlyphs">G101</text>
<line x1="578.8" y1="645.2" x2="597.4" y2="645.2" stroke="#000" stroke-width="1.0" />
<text x="578.8" y="656.98" font-size="10.08" textLength="24.2" lengthAdjust="spacingAndGlyphs">SHEET</text>
<line x1="578.8" y1="659.3" x2="603" y2="659.3" stroke="#000" stroke-width="1.0" />
<text x="578.8" y="671.18" font-size="10.08" textLength="23.2" lengthAdjust="spacingAndGlyphs">METAL</text>
<line x1="578.8" y1="673.5" x2="602" y2="673.5" stroke="#000" stroke-width="1.0" />
<text x="578.8" y="684.88" font-size="10.08" textLength="32" lengthAdjust="spacingAndGlyphs">GROUND</text>
<line x1="578.8" y1="687.2" x2="610.8" y2="687.2" stroke="#000" stroke-width="1.0" />
<text x="667.9" y="642.88" font-size="10.08" textLength="20.4" lengthAdjust="spacingAndGlyphs">G102</text>
<line x1="667.9" y1="645.2" x2="688.3" y2="645.2" stroke="#000" stroke-width="1.0" />
<text x="667.9" y="656.98" font-size="10.08" textLength="27.1" lengthAdjust="spacingAndGlyphs">ENGINE</text>
<line x1="667.9" y1="659.3" x2="695" y2="659.3" stroke="#000" stroke-width="1.0" />
<text x="667.9" y="671.18" font-size="10.08" textLength="26.3" lengthAdjust="spacingAndGlyphs">BLOCK</text>
<line x1="667.9" y1="673.5" x2="694.2" y2="673.5" stroke="#000" stroke-width="1.0" />
<text x="667.9" y="684.88" font-size="10.08" textLength="32.7" lengthAdjust="spacingAndGlyphs">GROUND</text>
<line x1="667.9" y1="687.2" x2="700.6" y2="687.2" stroke="#000" stroke-width="1.0" />
<rect x="333.2" y="754.7" width="206.8" height="101.7" fill="none" stroke="#000" stroke-width="3.2" />
<circle cx="386.3" cy="748.4" r="4.4" fill="#fff" stroke="#000" stroke-width="1.9"/>
<circle cx="490.5" cy="748.2" r="4.5" fill="#fff" stroke="#000" stroke-width="1.9"/>
<text x="288.6" y="759.78" font-size="10.08" textLength="33" lengthAdjust="spacingAndGlyphs">STARTER</text>
<line x1="288.6" y1="762" x2="321.6" y2="762" stroke="#000" stroke-width="1.0" />
<text x="288.6" y="773.68" font-size="10.08" textLength="38.7" lengthAdjust="spacingAndGlyphs">SOLENOID</text>
<line x1="288.6" y1="776" x2="327.3" y2="776" stroke="#000" stroke-width="1.0" />
<text x="377.5" y="765.48" font-size="10.08" textLength="4.5" lengthAdjust="spacingAndGlyphs">S</text>
<text x="400.3" y="769.48" font-size="10.08" textLength="82.4" lengthAdjust="spacingAndGlyphs">SOLENOID CONTACTS</text>
<text x="493.5" y="768.98" font-size="10.08" textLength="5.5" lengthAdjust="spacingAndGlyphs">B</text>
<line x1="386.3" y1="752" x2="386.3" y2="791.5" stroke="#000" stroke-width="1.4" />
<path d="M386.6,791.5 C394.6,791.5 394.6,797.77 386.6,797.77 C394.6,797.77 394.6,804.05 386.6,804.05 C394.6,804.05 394.6,810.32 386.6,810.32 C394.6,810.33 394.6,816.6 386.6,816.6" fill="none" stroke="#000" stroke-width="1.3" />
<line x1="385.8" y1="797.77" x2="391.4" y2="797.77" stroke="#000" stroke-width="1.5" />
<line x1="385.8" y1="804.05" x2="391.4" y2="804.05" stroke="#000" stroke-width="1.5" />
<line x1="385.8" y1="810.33" x2="391.4" y2="810.33" stroke="#000" stroke-width="1.5" />
<line x1="386.6" y1="816.6" x2="386.6" y2="861" stroke="#000" stroke-width="1.4" />
<circle cx="386.8" cy="861.4" r="4" fill="#000"/>
<line x1="373.8" y1="866.4" x2="399.8" y2="866.4" stroke="#000" stroke-width="1.4" />
<line x1="378.3" y1="870.9" x2="395.3" y2="870.9" stroke="#000" stroke-width="1.4" />
<line x1="382.8" y1="875.4" x2="390.8" y2="875.4" stroke="#000" stroke-width="1.4" />
<text x="347.4" y="831.18" font-size="10.08" textLength="35.4" lengthAdjust="spacingAndGlyphs">HOLD-IN</text>
<text x="348" y="840.98" font-size="10.08" textLength="31.5" lengthAdjust="spacingAndGlyphs">WINDING</text>
<polyline points="386.3,755 397.7,773 457.6,773 457.6,792" fill="none" stroke="#000" stroke-width="1.4" />
<path d="M457.6,792 C465.6,792 465.6,798.33 457.6,798.33 C465.6,798.33 465.6,804.65 457.6,804.65 C465.6,804.65 465.6,810.97 457.6,810.97 C465.6,810.97 465.6,817.3 457.6,817.3" fill="none" stroke="#000" stroke-width="1.3" />
<line x1="456.8" y1="798.33" x2="462.4" y2="798.33" stroke="#000" stroke-width="1.5" />
<line x1="456.8" y1="804.65" x2="462.4" y2="804.65" stroke="#000" stroke-width="1.5" />
<line x1="456.8" y1="810.97" x2="462.4" y2="810.97" stroke="#000" stroke-width="1.5" />
<line x1="457.6" y1="817.3" x2="457.6" y2="856" stroke="#000" stroke-width="1.4" />
<text x="419.2" y="831.18" font-size="10.08" textLength="34.5" lengthAdjust="spacingAndGlyphs">PULL-IN</text>
<text x="420" y="840.98" font-size="10.08" textLength="31.5" lengthAdjust="spacingAndGlyphs">WINDING</text>
<text x="449" y="852.66" font-size="9.45" textLength="5.5" lengthAdjust="spacingAndGlyphs">M</text>
<line x1="386" y1="805.1" x2="530" y2="805.1" stroke="#000" stroke-width="1.4" stroke-dasharray="6 4"/>
<line x1="602" y1="807" x2="622" y2="807" stroke="#000" stroke-width="1.4" stroke-dasharray="5 3.5"/>
<line x1="490.3" y1="752" x2="490.3" y2="785.5" stroke="#000" stroke-width="1.4" />
<circle cx="490.3" cy="785.5" r="3.6" fill="#000"/>
<circle cx="520.2" cy="785.5" r="3.6" fill="#000"/>
<path d="M494,782 Q505,773 517,782" fill="none" stroke="#000" stroke-width="1.4" stroke-dasharray="4.5 3"/>
<circle cx="505.3" cy="818" r="3.6" fill="#000"/>
<line x1="505.3" y1="818" x2="520.2" y2="785.5" stroke="#000" stroke-width="1.4" />
<polygon points="517.26,797.66 518,790.3 512.9,795.66" fill="#000"/>
<polyline points="505.3,818 505.3,833.2 476.9,833.2 459,855" fill="none" stroke="#000" stroke-width="1.4" />
<rect x="441.4" y="856.4" width="34.4" height="87.2" fill="none" stroke="#000" stroke-width="2.2" />
<circle cx="458.8" cy="862.9" r="4.4" fill="#fff" stroke="#000" stroke-width="1.8"/>
<line x1="458.9" y1="867" x2="458.9" y2="898" stroke="#000" stroke-width="1.4" />
<rect x="451.1" y="893.1" width="15.9" height="6.7" fill="#000"/>
<rect x="451.1" y="922.3" width="15.9" height="6.1" fill="#000"/>
<circle cx="458.9" cy="910.6" r="12.8" fill="#fff" stroke="#000" stroke-width="1.5"/>
<text x="455" y="914.69" font-size="10.71" textLength="7.3" lengthAdjust="spacingAndGlyphs">M</text>
<line x1="458.9" y1="928" x2="458.9" y2="947" stroke="#000" stroke-width="1.4" />
<circle cx="458.9" cy="947.6" r="4.2" fill="#000"/>
<line x1="445.2" y1="953.5" x2="472.2" y2="953.5" stroke="#000" stroke-width="1.5" />
<line x1="450.2" y1="958.1" x2="467.2" y2="958.1" stroke="#000" stroke-width="1.5" />
<line x1="454.2" y1="962.7" x2="463.2" y2="962.7" stroke="#000" stroke-width="1.5" />
<text x="403" y="928.18" font-size="10.08" textLength="33" lengthAdjust="spacingAndGlyphs">STARTER</text>
<line x1="403" y1="930.6" x2="436" y2="930.6" stroke="#000" stroke-width="1.0" />
<text x="409.1" y="942.08" font-size="10.08" textLength="26.1" lengthAdjust="spacingAndGlyphs">MOTOR</text>
<line x1="409.1" y1="944.5" x2="435.2" y2="944.5" stroke="#000" stroke-width="1.0" />
<line x1="476.4" y1="907.3" x2="571" y2="907.3" stroke="#000" stroke-width="2.5" />
<line x1="476.4" y1="913.4" x2="571" y2="913.4" stroke="#000" stroke-width="2.5" />
<path d="M516,897 C518.5,894 521,892.6 524,892.6 C530.5,892.6 535.4,900.5 535.4,911 C535.4,922 530,930.2 523,930.2 C516.5,930.2 512.3,925 511.9,919.5" fill="none" stroke="#000" stroke-width="1.3" />
<polygon points="513.16,895.88 512,903.8 518.07,898.58" fill="#000"/>
<rect x="570.5" y="895.4" width="6.9" height="31.6" fill="#fff" stroke="#000" stroke-width="2" />
<path d="M529.4,790.3 L602,790.3 L602,822.4 L528,822.4 C529.5,817 532.5,812 533.5,806 C534.5,801 533,796 529.4,790.3 Z" fill="#fff"/>
<path d="M529.4,790.3 L602,790.3 M528,821.6 L602,821.6" fill="none" stroke="#000" stroke-width="3.1" />
<path d="M529.4,790.3 C533,796 534.5,801 533.5,806 C532.5,812 529.5,817 528,822.4" fill="none" stroke="#000" stroke-width="2.2" />
<line x1="602.2" y1="783.6" x2="602.2" y2="829" stroke="#000" stroke-width="2.8" />
<line x1="547" y1="829.5" x2="559.2" y2="785.3" stroke="#000" stroke-width="7.2" stroke-linecap="round"/>
<line x1="547" y1="829.5" x2="559.2" y2="785.3" stroke="#fff" stroke-width="2.8" stroke-linecap="round"/>
<line x1="563.2" y1="829.5" x2="575.6" y2="785.3" stroke="#000" stroke-width="7.2" stroke-linecap="round"/>
<line x1="563.2" y1="829.5" x2="575.6" y2="785.3" stroke="#fff" stroke-width="2.8" stroke-linecap="round"/>
<line x1="579.3" y1="829.5" x2="591.2" y2="785.3" stroke="#000" stroke-width="7.2" stroke-linecap="round"/>
<line x1="579.3" y1="829.5" x2="591.2" y2="785.3" stroke="#fff" stroke-width="2.8" stroke-linecap="round"/>
<path d="M592,822.4 L592,828 C592,833 598.5,833 598.5,828 L598.5,822.4" fill="none" stroke="#000" stroke-width="1.8" />
<text x="556.6" y="763.18" font-size="10.08" textLength="31" lengthAdjust="spacingAndGlyphs">RETURN</text>
<line x1="556.6" y1="765.7" x2="587.6" y2="765.7" stroke="#000" stroke-width="1.0" />
<text x="556.6" y="777.38" font-size="10.08" textLength="28.4" lengthAdjust="spacingAndGlyphs">SPRING</text>
<line x1="556.6" y1="780" x2="585" y2="780" stroke="#000" stroke-width="1.0" />
<text x="608.7" y="793.28" font-size="10.08" textLength="36.5" lengthAdjust="spacingAndGlyphs">PLUNGER</text>
<line x1="608.7" y1="796" x2="645.2" y2="796" stroke="#000" stroke-width="1.0" />
<line x1="630" y1="807.7" x2="613.2" y2="850.2" stroke="#000" stroke-width="9.2"/>
<line x1="613.2" y1="850.2" x2="588.6" y2="911.2" stroke="#000" stroke-width="9.2"/>
<circle cx="630" cy="807.7" r="8.9" fill="#000"/>
<circle cx="613.2" cy="850.2" r="9.8" fill="#000"/>
<circle cx="588.6" cy="911.2" r="10.2" fill="#000"/>
<line x1="630" y1="807.7" x2="613.2" y2="850.2" stroke="#fff" stroke-width="5"/>
<line x1="613.2" y1="850.2" x2="588.6" y2="911.2" stroke="#fff" stroke-width="5"/>
<circle cx="630" cy="807.7" r="6.6" fill="#fff"/>
<circle cx="613.2" cy="850.2" r="7.5" fill="#fff"/>
<circle cx="588.6" cy="911.2" r="8.2" fill="#fff"/>
<circle cx="630" cy="807.7" r="3.2" fill="none" stroke="#000" stroke-width="1.8"/>
<circle cx="613.2" cy="850.2" r="3.2" fill="none" stroke="#000" stroke-width="1.8"/>
<path d="M608,833.5 C601,836 597,843 597,852" fill="none" stroke="#000" stroke-width="1.3" />
<polygon points="594.7,852 597.3,859 599.9,852" fill="#000"/>
<text x="632.6" y="849.48" font-size="10.08" textLength="21.2" lengthAdjust="spacingAndGlyphs">SHIFT</text>
<line x1="632.6" y1="852.3" x2="653.8" y2="852.3" stroke="#000" stroke-width="1.0" />
<text x="632.6" y="863.98" font-size="10.08" textLength="24.3" lengthAdjust="spacingAndGlyphs">LEVER</text>
<line x1="632.6" y1="866.2" x2="656.9" y2="866.2" stroke="#000" stroke-width="1.0" />
<rect x="601.2" y="896" width="7" height="30.9" fill="#fff" stroke="#000" stroke-width="2" />
<line x1="608.2" y1="900.3" x2="643.8" y2="900.3" stroke="#000" stroke-width="2" />
<line x1="608.2" y1="922.5" x2="643.8" y2="922.5" stroke="#000" stroke-width="2" />
<clipPath id="hc"><rect x="608.2" y="900.3" width="35.6" height="22.2"/></clipPath>
<g clip-path="url(#hc)"><line x1="600.0" y1="900.3" x2="609.0" y2="922.5" stroke="#000" stroke-width="1.1"/><line x1="603.4" y1="900.3" x2="612.4" y2="922.5" stroke="#000" stroke-width="1.1"/><line x1="606.8" y1="900.3" x2="615.8" y2="922.5" stroke="#000" stroke-width="1.1"/><line x1="610.2" y1="900.3" x2="619.2" y2="922.5" stroke="#000" stroke-width="1.1"/><line x1="613.6" y1="900.3" x2="622.6" y2="922.5" stroke="#000" stroke-width="1.1"/><line x1="617.0" y1="900.3" x2="626.0" y2="922.5" stroke="#000" stroke-width="1.1"/><line x1="620.4" y1="900.3" x2="629.4" y2="922.5" stroke="#000" stroke-width="1.1"/><line x1="623.8" y1="900.3" x2="632.8" y2="922.5" stroke="#000" stroke-width="1.1"/><line x1="627.2" y1="900.3" x2="636.2" y2="922.5" stroke="#000" stroke-width="1.1"/><line x1="630.6" y1="900.3" x2="639.6" y2="922.5" stroke="#000" stroke-width="1.1"/><line x1="634.0" y1="900.3" x2="643.0" y2="922.5" stroke="#000" stroke-width="1.1"/><line x1="637.4" y1="900.3" x2="646.4" y2="922.5" stroke="#000" stroke-width="1.1"/><line x1="640.8" y1="900.3" x2="649.8" y2="922.5" stroke="#000" stroke-width="1.1"/><line x1="644.2" y1="900.3" x2="653.2" y2="922.5" stroke="#000" stroke-width="1.1"/><line x1="647.6" y1="900.3" x2="656.6" y2="922.5" stroke="#000" stroke-width="1.1"/></g>
<rect x="643.8" y="889.7" width="13.2" height="44.2" fill="#fff" stroke="#000" stroke-width="2.4" />
<line x1="657" y1="900.3" x2="691.8" y2="900.3" stroke="#000" stroke-width="2" />
<line x1="657" y1="924" x2="691.8" y2="924" stroke="#000" stroke-width="2" />
<line x1="657" y1="903.69" x2="691.8" y2="903.69" stroke="#000" stroke-width="1.1" />
<line x1="657" y1="907.07" x2="691.8" y2="907.07" stroke="#000" stroke-width="1.1" />
<line x1="657" y1="910.46" x2="691.8" y2="910.46" stroke="#000" stroke-width="1.1" />
<line x1="657" y1="913.84" x2="691.8" y2="913.84" stroke="#000" stroke-width="1.1" />
<line x1="657" y1="917.23" x2="691.8" y2="917.23" stroke="#000" stroke-width="1.1" />
<line x1="657" y1="920.61" x2="691.8" y2="920.61" stroke="#000" stroke-width="1.1" />
<line x1="691.6" y1="900" x2="691.6" y2="925" stroke="#000" stroke-width="2.2" />
<rect x="690.2" y="815.9" width="16.3" height="86.7" fill="#000"/>
<line x1="692.8" y1="818.5" x2="704.2" y2="818.5" stroke="#fff" stroke-width="1.2" />
<line x1="692.8" y1="821.6" x2="704.2" y2="821.6" stroke="#fff" stroke-width="1.2" />
<line x1="692.8" y1="824.7" x2="704.2" y2="824.7" stroke="#fff" stroke-width="1.2" />
<line x1="692.8" y1="827.8" x2="704.2" y2="827.8" stroke="#fff" stroke-width="1.2" />
<line x1="692.8" y1="830.9" x2="704.2" y2="830.9" stroke="#fff" stroke-width="1.2" />
<line x1="692.8" y1="834" x2="704.2" y2="834" stroke="#fff" stroke-width="1.2" />
<line x1="692.8" y1="837.1" x2="704.2" y2="837.1" stroke="#fff" stroke-width="1.2" />
<line x1="692.8" y1="840.2" x2="704.2" y2="840.2" stroke="#fff" stroke-width="1.2" />
<line x1="692.8" y1="843.3" x2="704.2" y2="843.3" stroke="#fff" stroke-width="1.2" />
<line x1="692.8" y1="846.4" x2="704.2" y2="846.4" stroke="#fff" stroke-width="1.2" />
<line x1="692.8" y1="849.5" x2="704.2" y2="849.5" stroke="#fff" stroke-width="1.2" />
<line x1="692.8" y1="852.6" x2="704.2" y2="852.6" stroke="#fff" stroke-width="1.2" />
<line x1="692.8" y1="855.7" x2="704.2" y2="855.7" stroke="#fff" stroke-width="1.2" />
<line x1="692.8" y1="858.8" x2="704.2" y2="858.8" stroke="#fff" stroke-width="1.2" />
<line x1="692.8" y1="861.9" x2="704.2" y2="861.9" stroke="#fff" stroke-width="1.2" />
<line x1="692.8" y1="865" x2="704.2" y2="865" stroke="#fff" stroke-width="1.2" />
<line x1="692.8" y1="868.1" x2="704.2" y2="868.1" stroke="#fff" stroke-width="1.2" />
<line x1="692.8" y1="871.2" x2="704.2" y2="871.2" stroke="#fff" stroke-width="1.2" />
<line x1="692.8" y1="874.3" x2="704.2" y2="874.3" stroke="#fff" stroke-width="1.2" />
<line x1="692.8" y1="877.4" x2="704.2" y2="877.4" stroke="#fff" stroke-width="1.2" />
<line x1="692.8" y1="880.5" x2="704.2" y2="880.5" stroke="#fff" stroke-width="1.2" />
<line x1="692.8" y1="883.6" x2="704.2" y2="883.6" stroke="#fff" stroke-width="1.2" />
<line x1="692.8" y1="886.7" x2="704.2" y2="886.7" stroke="#fff" stroke-width="1.2" />
<line x1="692.8" y1="889.8" x2="704.2" y2="889.8" stroke="#fff" stroke-width="1.2" />
<line x1="692.8" y1="892.9" x2="704.2" y2="892.9" stroke="#fff" stroke-width="1.2" />
<line x1="692.8" y1="896" x2="704.2" y2="896" stroke="#fff" stroke-width="1.2" />
<line x1="692.8" y1="899.1" x2="704.2" y2="899.1" stroke="#fff" stroke-width="1.2" />
<rect x="706.3" y="854.6" width="7.1" height="6.9" fill="#fff" stroke="#000" stroke-width="1.5" />
<rect x="713.4" y="839" width="46" height="36.5" fill="none" stroke="#000" stroke-width="3" />
<text x="712.3" y="834.38" font-size="10.08" textLength="40.7" lengthAdjust="spacingAndGlyphs">FLYWHEEL</text>
<line x1="712.3" y1="836.2" x2="753" y2="836.2" stroke="#000" stroke-width="1.0" />
<text x="711.6" y="888.98" font-size="10.08" textLength="20.4" lengthAdjust="spacingAndGlyphs">DRIVE</text>
<line x1="711.6" y1="891.2" x2="732" y2="891.2" stroke="#000" stroke-width="1.0" />
<text x="711.6" y="902.88" font-size="10.08" textLength="41.3" lengthAdjust="spacingAndGlyphs">ASSEMBLY</text>
<line x1="711.6" y1="905.2" x2="752.9" y2="905.2" stroke="#000" stroke-width="1.0" />
<text x="710" y="956.75" font-size="10" font-weight="bold" textLength="45.2" lengthAdjust="spacingAndGlyphs">01-17-96</text>
<text x="703.7" y="967.15" font-size="10" font-weight="bold" textLength="57.3" lengthAdjust="spacingAndGlyphs">4208T2643</text>
<polyline points="186.3,151.9 266.7,151.9 266.5,403.4 186,403.4 186,493.5 266.3,493.5 266.3,534.9 186.3,534.9 186.3,561" fill="none" stroke="#e016e0" stroke-width="4.0" stroke-linejoin="miter" stroke-linecap="butt"/>
<polyline points="176.1,547.1 187.2,563.5 195.8,547.1" fill="none" stroke="#e016e0" stroke-width="4.0" stroke-linejoin="miter" stroke-linecap="butt"/>
<polyline points="187.5,566.2 135,566.2 135,737.8 84.9,737.8 84.9,958.7" fill="none" stroke="#e016e0" stroke-width="4.0" stroke-linejoin="miter" stroke-linecap="butt"/>
<polyline points="75.7,859.3 85,878.6 95,859.3" fill="none" stroke="#e016e0" stroke-width="4.0" stroke-linejoin="miter" stroke-linecap="butt"/>
</svg>
</body></html>
